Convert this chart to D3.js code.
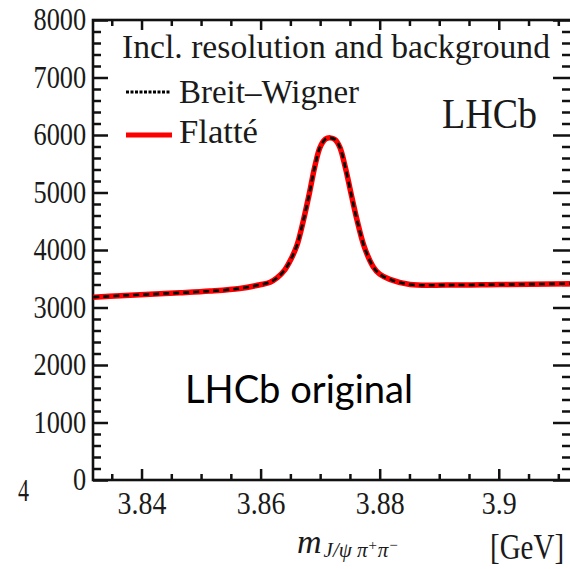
<!DOCTYPE html>
<html>
<head>
<meta charset="utf-8">
<script src="https://cdn.jsdelivr.net/npm/d3@7"></script>
<style>
  html, body { margin: 0; padding: 0; background: #fff; overflow: hidden; }
  svg { display: block; }
</style>
</head>
<body>
<svg id="chart" width="570" height="569"></svg>
<script>
// mass values [GeV]
const massGeV = [3.8319, 3.8364, 3.8414, 3.8464, 3.8515, 3.8565, 3.8599, 3.8616, 3.8628,
  3.8641, 3.8651, 3.8661, 3.8672, 3.8682, 3.8691, 3.8700, 3.8709, 3.8717, 3.8725, 3.8733,
  3.8742, 3.8753, 3.8762, 3.8774, 3.8789, 3.8800, 3.8817, 3.8851, 3.8913, 3.9002, 3.9123];
// fitted yield, both line shapes coincide
const yieldBW = [3180, 3205, 3230, 3255, 3285, 3330, 3395, 3440, 3520,
  3660, 3840, 4080, 4520, 4990, 5450, 5790, 5930, 5950, 5920, 5790,
  5450, 4930, 4520, 4060, 3710, 3580, 3490, 3400, 3390, 3400, 3415];
const yieldFlatte = yieldBW.slice();

const xMajor = [3.84, 3.86, 3.88, 3.9];
const xTickLabels = ['3.84', '3.86', '3.88', '3.9'];
const xMinor = [3.835, 3.845, 3.85, 3.855, 3.865, 3.87, 3.875, 3.885, 3.89, 3.895, 3.905, 3.91];
const yMajor = [0, 1000, 2000, 3000, 4000, 5000, 6000, 7000, 8000];
const yTickLabels = ['0', '1000', '2000', '3000', '4000', '5000', '6000', '7000', '8000'];
const yMinor = d3.range(200, 8000, 200).filter(v => v % 1000 !== 0);

const svg = d3.select('#chart');
const L = 93, R = 572, T = 20, B = 480;

const x = d3.scaleLinear().domain([3.83185, 3.9123]).range([L, R]);
const y = d3.scaleLinear().domain([0, 8000]).range([B, T]);

const serif = '"Liberation Serif", "DejaVu Serif", serif';

function styleAxis(g) {
  g.select('.domain').remove();
  g.selectAll('.tick line').attr('stroke', '#111').attr('stroke-width', 2.5);
}

// minor + major ticks on all four sides, pointing inward
svg.append('g').attr('transform', `translate(${L},0)`)
  .call(d3.axisLeft(y).tickValues(yMinor).tickSize(-8).tickFormat(''))
  .call(styleAxis);
const yAx = svg.append('g').attr('transform', `translate(${L},0)`)
  .call(d3.axisLeft(y).tickValues(yMajor).tickSizeInner(-15).tickSizeOuter(0).tickPadding(8)
    .tickFormat((d, i) => yTickLabels[i]))
  .call(styleAxis);
yAx.selectAll('.tick text')
  .attr('font-family', serif).attr('font-size', 31).attr('fill', '#1a1a1a')
  .attr('transform', 'scale(0.85,1)');

svg.append('g').attr('transform', `translate(${R},0)`)
  .call(d3.axisRight(y).tickValues(yMinor).tickSize(-10).tickFormat(''))
  .call(styleAxis);
svg.append('g').attr('transform', `translate(${R},0)`)
  .call(d3.axisRight(y).tickValues(yMajor).tickSize(-19).tickFormat(''))
  .call(styleAxis);

svg.append('g').attr('transform', `translate(0,${B})`)
  .call(d3.axisBottom(x).tickValues(xMinor).tickSize(-6).tickFormat(''))
  .call(styleAxis);
const xAx = svg.append('g').attr('transform', `translate(0,${B})`)
  .call(d3.axisBottom(x).tickValues(xMajor).tickSizeInner(-11).tickSizeOuter(0).tickPadding(12)
    .tickFormat((d, i) => xTickLabels[i]))
  .call(styleAxis);
xAx.selectAll('.tick text')
  .attr('font-family', serif).attr('font-size', 31).attr('fill', '#1a1a1a')
  .attr('transform', 'scale(0.9,1)');

svg.append('g').attr('transform', `translate(0,${T})`)
  .call(d3.axisTop(x).tickValues(xMinor).tickSize(-6).tickFormat(''))
  .call(styleAxis);
svg.append('g').attr('transform', `translate(0,${T})`)
  .call(d3.axisTop(x).tickValues(xMajor).tickSize(-10).tickFormat(''))
  .call(styleAxis);

// frame
svg.append('rect')
  .attr('x', L).attr('y', T).attr('width', R - L).attr('height', B - T)
  .attr('fill', 'none').attr('stroke', '#111').attr('stroke-width', 2.6);

// curves
const line = d3.line().curve(d3.curveCatmullRom.alpha(0.5));
svg.append('path')
  .attr('d', line(massGeV.map((m, i) => [x(m), y(yieldFlatte[i])])))
  .attr('fill', 'none').attr('stroke', '#ff0000').attr('stroke-width', 5.5);
svg.append('path')
  .attr('d', line(massGeV.map((m, i) => [x(m), y(yieldBW[i])])))
  .attr('fill', 'none').attr('stroke', '#000').attr('stroke-width', 2.6)
  .attr('stroke-dasharray', '6,4');

// legend
svg.append('text').attr('x', 122).attr('y', 58)
  .attr('font-family', serif).attr('font-size', 34).attr('fill', '#1a1a1a')
  .attr('textLength', 428).attr('lengthAdjust', 'spacingAndGlyphs')
  .text('Incl. resolution and background');
svg.append('line').attr('x1', 126).attr('x2', 171).attr('y1', 92).attr('y2', 92)
  .attr('stroke', '#000').attr('stroke-width', 3).attr('stroke-dasharray', '3,1.5');
svg.append('text').attr('x', 179).attr('y', 103)
  .attr('font-family', serif).attr('font-size', 34).attr('fill', '#1a1a1a')
  .attr('textLength', 180).attr('lengthAdjust', 'spacingAndGlyphs')
  .text('Breit–Wigner');
svg.append('line').attr('x1', 126).attr('x2', 172).attr('y1', 135).attr('y2', 135)
  .attr('stroke', '#ff0000').attr('stroke-width', 5);
svg.append('text').attr('x', 179).attr('y', 143)
  .attr('font-family', serif).attr('font-size', 34).attr('fill', '#1a1a1a')
  .attr('textLength', 79).attr('lengthAdjust', 'spacingAndGlyphs')
  .text('Flatté');

svg.append('text').attr('x', 442).attr('y', 128)
  .attr('font-family', serif).attr('font-size', 42).attr('fill', '#1a1a1a')
  .attr('textLength', 95).attr('lengthAdjust', 'spacingAndGlyphs')
  .text('LHCb');

svg.append('text').attr('x', 185).attr('y', 403)
  .attr('font-family', 'Lato, "Open Sans", sans-serif').attr('font-size', 39).attr('fill', '#000')
  .attr('textLength', 228).attr('lengthAdjust', 'spacingAndGlyphs')
  .text('LHCb original');

// stray glyph at lower left
svg.append('text').attr('x', 18).attr('y', 501)
  .attr('font-family', serif).attr('font-size', 32).attr('fill', '#1a1a1a')
  .attr('textLength', 11).attr('lengthAdjust', 'spacingAndGlyphs')
  .text('4');

// x-axis title
const xt = svg.append('text').attr('x', 297).attr('y', 553)
  .attr('font-family', serif).attr('font-style', 'italic').attr('fill', '#1a1a1a');
xt.append('tspan').attr('font-size', 34).text('m');
xt.append('tspan').attr('font-size', 21).attr('dy', 4).attr('dx', 2).text('J/ψ π');
xt.append('tspan').attr('font-size', 15).attr('dy', -7).text('+');
xt.append('tspan').attr('font-size', 21).attr('dy', 7).text('π');
xt.append('tspan').attr('font-size', 15).attr('dy', -7).text('−');

svg.append('g').attr('transform', 'translate(490,559) scale(1,1.2)')
  .append('text')
  .attr('font-family', serif).attr('font-size', 29).attr('fill', '#1a1a1a')
  .text('[GeV]');
</script>
</body>
</html>
